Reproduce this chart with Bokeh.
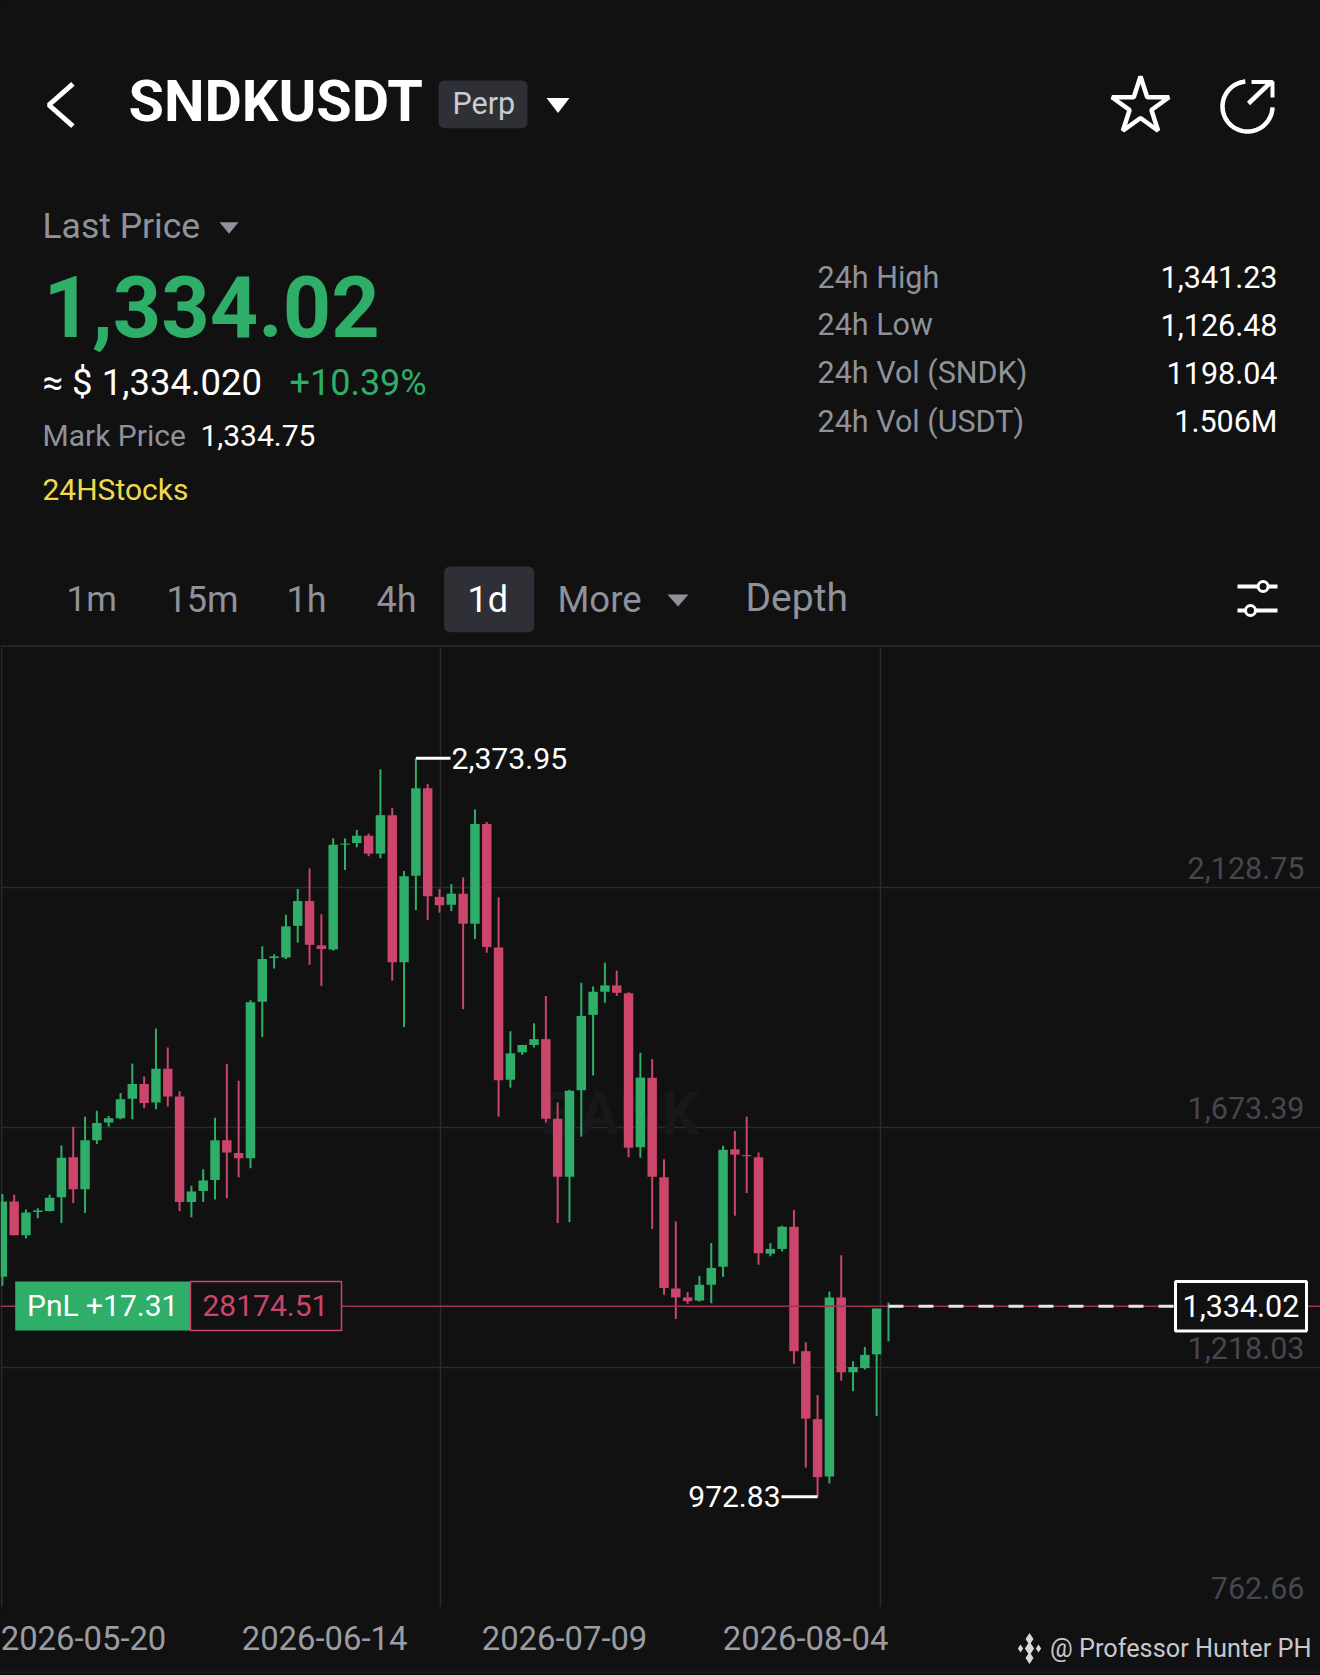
import numpy as np
from bokeh.plotting import figure
from bokeh.layouts import column, row
from bokeh.embed import file_html
from bokeh.resources import INLINE
from bokeh.core.properties import value
from bokeh.models import Range1d, FixedTicker

# ---------- data ----------
opens = [1390,1533,1469,1513,1515,1541,1617,1556,1649,1683,1691,1728,1756,1721,1785,1732,1532,1553,1574,1649,1625,1615,1912,1995,1996,2056,
         2103,2019,2011,2210,2213,2227,2193,2266,1987,2151,2317,2111,2096,2117,2060,2249,2015,1764,1816,1830,1841,1690,1580,1744,
         1887,1931,1943,1928,1636,1768,1579,1368,1351,1345,1375,1409,1632,1621,1617,1434,1443,1485,1249,1120,1011,1351,1209,1217,1243,1333]
highs = [1547,1546,1518,1520,1546,1639,1675,1694,1705,1695,1739,1795,1770,1861,1825,1742,1563,1594,1692,1794,1762,1915,2017,2002,2077,2126,
         2165,2078,2222,2222,2238,2231,2353,2280,2160,2373.95,2325,2126,2135,2148,2277,2253,2110,1856,1830,1871,1923,1721,1745,1948,
         1941,1986,1971,1930,1815,1803,1613,1495,1361,1392,1454,1639,1667,1694,1626,1454,1487,1517,1266,1166,1362,1431,1230,1257,1330,1341.23]
lows = [1373,1469,1463,1501,1514,1492,1530,1511,1642,1675,1689,1689,1710,1708,1713,1515,1503,1532,1537,1539,1579,1596,1845,1975,1993,2024,
        1982,1942,2009,2162,2205,2188,2184,1952,1864,2086,2067,2081,2084,1898,2031,2005,1694,1749,1811,1825,1683,1492,1494,1656,
        1772,1910,1923,1617,1616,1481,1356,1310,1339,1343,1340,1390,1506,1549,1413,1429,1438,1225,1028,972.83,998,1193,1173,1214,1126,1268]
closes = [1533,1469,1512,1516,1540,1616,1556,1649,1682,1691,1727,1756,1720,1785,1732,1532,1552,1573,1649,1626,1615,1911,1993,1998,2055,2103,
          2020,2012,2210,2212,2227,2193,2266,1987,2150,2317,2112,2095,2117,2060,2249,2016,1763,1814,1830,1841,1690,1580,1743,1885,
          1931,1943,1929,1635,1768,1580,1369,1351,1344,1375,1407,1631,1622,1619,1435,1443,1485,1249,1121,1010,1351,1209,1219,1242,1330,1334.02]
y_ticks = [2128.75, 1673.39, 1218.03, 762.66]
date_ticks = [6.87, 27.27, 47.58, 67.98]
date_labels = ["2026-05-20", "2026-06-14", "2026-07-09", "2026-08-04"]
grid_x = [-0.11, 37.08, 74.32]
last_price = 1334.02
stats = [("24h High", "1,341.23"), ("24h Low", "1,126.48"), ("24h Vol (SNDK)", "1198.04"), ("24h Vol (USDT)", "1.506M")]
tabs = ["1m", "15m", "1h", "4h", "1d", "More", "Depth"]

BG = "#111112"; GRID = "#2a2b2e"; GREEN = "#2eae68"; RED = "#cc456b"
GRAY = "#8f929a"; FONT = "Roboto"; K = 0.36

def strip_fig(w, hgt, xr, yr, **kw):
    f = figure(width=w, height=hgt, x_range=xr, y_range=yr, output_backend="svg", toolbar_location=None,
               background_fill_color=BG, border_fill_color=BG, outline_line_color=None, **kw)
    return f

def T(f, x, y, s, size, color, align="left", style="normal"):
    f.text([x], [y - K * size], [s], text_font=value(FONT), text_font_size=f"{size}px", text_color=color,
           text_align=align, text_baseline="alphabetic", text_font_style=style)

# ---------- header ----------
h = strip_fig(1320, 647, Range1d(0, 1320), Range1d(647, 0), min_border=0)
h.xaxis.visible = False; h.yaxis.visible = False; h.grid.visible = False

h.line([72.4, 48.4, 72.4], [83.3, 104.5, 125.7], line_color="white", line_width=5)
T(h, 128, 121.7, "SNDKUSDT", 57.5, "white", style="bold")
h.quad(left=[438], right=[527], top=[80], bottom=[127.7], fill_color="#2e3036", line_color=None, border_radius=6)
T(h, 452, 114, "Perp", 30.5, "#c9ccd2")
h.patch([546, 569, 557.5], [97.5, 97.5, 112.5], fill_color="white", line_color=None)
T(h, 42, 238, "Last Price", 35.5, GRAY)
h.patch([219, 238, 228.5], [221.7, 221.7, 233.3], fill_color=GRAY, line_color=None)
T(h, 43, 336.7, "1,334.02", 84.5, GREEN, style="bold")
T(h, 42, 395, "≈ $ 1,334.020", 36.5, "white")
T(h, 289, 395, "+10.39%", 36, GREEN)
T(h, 42, 446, "Mark Price", 30, GRAY)
T(h, 200, 446, "1,334.75", 30, "white")
T(h, 42, 500, "24HStocks", 30, "#f0d94f")

for (lab, val), yb in zip(stats, [287.7, 335.3, 383.3, 431.7]):
    T(h, 817, yb, lab, 30.5, GRAY)
    T(h, 1277, yb, val, 30.5, "white", align="right")

# star + share icons
h.scatter([1140], [106], marker="star", size=60, fill_alpha=0, line_color="white", line_width=4.5)
a = np.radians(np.linspace(95, 358, 60))
h.line(1247 + 25 * np.cos(a), 106 - 25 * np.sin(a), line_color="white", line_width=4.5)
h.line([1248, 1270], [103, 82], line_color="white", line_width=4.5)
h.line([1251, 1272, 1272], [81.5, 81.5, 97], line_color="white", line_width=4)

# tabs
h.quad(left=[443.6], right=[533.7], top=[566], bottom=[631.7], fill_color="#2e3036", line_color=None, border_radius=6)
for s, x, c, sz in zip(tabs, [66, 166, 286, 376, 467, 557, 745], [GRAY] * 4 + ["white"] + [GRAY] * 2, [35, 36, 36, 36, 36, 36.5, 39]):
    T(h, x, 612, s, sz, c)
h.patch([667, 688, 677.5], [594, 594, 606], fill_color=GRAY, line_color=None)
h.line([1237, 1277], [586, 586], line_color="white", line_width=4)
h.line([1237, 1277], [610, 610], line_color="white", line_width=4)
h.scatter([1262.6, 1250], [586, 610], marker="circle", size=10, fill_color=BG, line_color="white", line_width=3)
h.line([0, 1320], [646, 646], line_color=GRID, line_width=2)

# ---------- chart ----------
PX_PER = 11.815; X0 = -0.157
X = lambda px: px / PX_PER + X0
UNIT = 455.36 / 240
Y = lambda px: 2128.75 + (887 - px) * UNIT

p = strip_fig(1320, 960, Range1d(X(0), X(1320)), Range1d(762.66, 2584.1), min_border=0)
p.xaxis.visible = False; p.yaxis.visible = False
p.ygrid.ticker = FixedTicker(ticks=y_ticks); p.ygrid.grid_line_color = GRID; p.ygrid.grid_line_width = 1.5
p.xgrid.ticker = FixedTicker(ticks=grid_x); p.xgrid.grid_line_color = GRID; p.xgrid.grid_line_width = 1.5

# faint watermark
p.text([X(540)], [Y(1135 - K * 60)], ["BANK"], text_font=value(FONT), text_font_size="60px", text_font_style="bold",
       text_color="#18181a", text_baseline="alphabetic")

idx = np.arange(len(opens))
cols = [GREEN if c >= o else RED for o, c in zip(opens, closes)]
p.segment(idx, lows, idx, highs, line_color=cols, line_width=2)
p.vbar(idx, width=0.8, bottom=np.minimum(opens, closes), top=np.maximum(opens, closes), fill_color=cols, line_color=None)

# position line, last price
p.line([X(0), X(1320)], [last_price, last_price], line_color="#a03355", line_width=1.5)
p.line([idx[-1], X(1175)], [last_price, last_price], line_color="#e6e6e6", line_width=3, line_dash="15 15")

# y labels
p.text([X(1304)] * len(y_ticks), y_ticks, [f"{v:,.2f}" if v > 1000 else f"{v:.2f}" for v in y_ticks],
       text_font=value(FONT), text_font_size="30.5px", text_color="#44474d", text_align="right",
       text_baseline="alphabetic", y_offset=-9 - K * 30.5)

def CT(x, ypx, s, size, color, align="left"):
    p.text([X(x)], [Y(ypx - K * size)], [s], text_font=value(FONT), text_font_size=f"{size}px", text_color=color,
           text_baseline="alphabetic", text_align=align)

# PnL tag
p.quad(left=[X(14.7)], right=[X(190)], top=[Y(1281)], bottom=[Y(1330)], fill_color=GREEN, line_color=None)
p.quad(left=[X(190)], right=[X(341)], top=[Y(1281)], bottom=[Y(1330)], fill_color=BG, line_color=RED, line_width=1.5)
CT(26.5, 1315.7, "PnL +17.31", 30, "white")
CT(202, 1315.7, "28174.51", 30, RED)

# last price box
p.quad(left=[X(1175)], right=[X(1306)], top=[Y(1281)], bottom=[Y(1330.5)], fill_color=BG, line_color="white", line_width=3)
CT(1182, 1316.7, f"{last_price:,.2f}", 30.5, "white")

# high / low markers
hi = int(np.argmax(highs)); lo = int(np.argmin(lows))
p.line([idx[hi], X(450)], [highs[hi], highs[hi]], line_color="white", line_width=3)
p.text([X(451)], [highs[hi]], [f"{highs[hi]:,.2f}"], text_font=value(FONT), text_font_size="30.2px", text_color="white", text_baseline="middle")
p.line([X(781), idx[lo]], [lows[lo], lows[lo]], line_color="white", line_width=3)
p.text([X(780)], [lows[lo]], [f"{lows[lo]:,.2f}"], text_font=value(FONT), text_font_size="30px", text_color="white", text_baseline="middle", text_align="right")

# ---------- date axis strip (shares the chart's horizontal scale) ----------
a_fig = strip_fig(1000, 60, Range1d(X(0), X(1000)), Range1d(0, 1), min_border_left=0, min_border_right=0,
                  min_border_top=0, min_border_bottom=59)
a_fig.yaxis.visible = False; a_fig.grid.visible = False
ax = a_fig.xaxis[0]
ax.ticker = FixedTicker(ticks=date_ticks)
ax.major_label_overrides = dict(zip(date_ticks, date_labels))
ax.major_tick_line_color = None; ax.minor_tick_line_color = None; ax.axis_line_color = None
ax.major_label_text_color = "#9a9da4"; ax.major_label_text_font = FONT
ax.major_label_text_font_size = "32.8px"; ax.major_label_standoff = 11

# ---------- footer credit strip ----------
b_fig = strip_fig(320, 60, Range1d(1000, 1320), Range1d(1667, 1607), min_border=0)
b_fig.xaxis.visible = False; b_fig.yaxis.visible = False; b_fig.grid.visible = False
T(b_fig, 1049.5, 1656.7, "@ Professor Hunter PH", 25.3, "#c8c8cc")
b_fig.scatter([1029, 1020, 1038, 1029, 1029], [1648, 1648, 1648, 1638.5, 1657.5], marker="diamond",
              size=[14, 8, 8, 12, 12], fill_color="#d8d8dc", line_color=None)

# ---------- bottom hairline strip ----------
s_fig = strip_fig(1320, 8, Range1d(0, 1320), Range1d(8, 0), min_border=0)
s_fig.xaxis.visible = False; s_fig.yaxis.visible = False; s_fig.grid.visible = False
s_fig.line([0, 1320], [0.5, 0.5], line_color="#1f2022", line_width=1.5)

PAGE = "{% block postamble %}<style>html,body{margin:0;padding:0;background:#111112;overflow:hidden}</style>{% endblock %}"
bottom = row(column(a_fig), column(b_fig), spacing=0)
open("out.html", "w").write(file_html(column(h, p, bottom, s_fig, spacing=0), INLINE, template=PAGE))
